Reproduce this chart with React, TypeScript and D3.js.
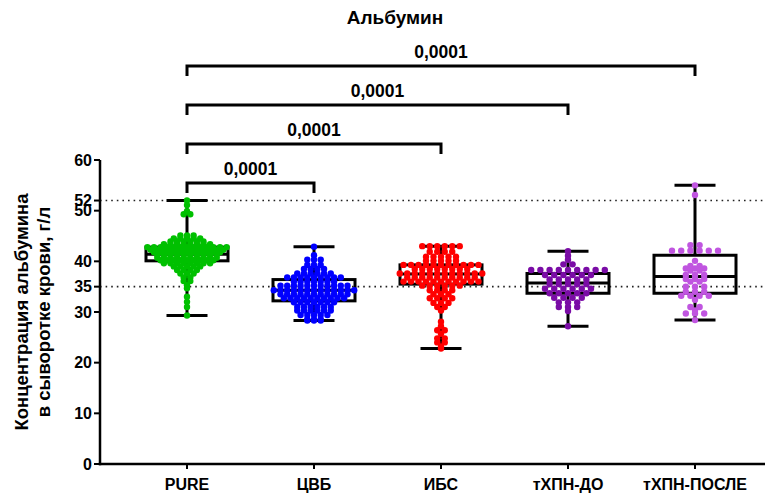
import React from 'react';
import * as d3 from 'd3';

// Groups along the x axis
const categories = ['PURE', 'ЦВБ', 'ИБС', 'тХПН-ДО', 'тХПН-ПОСЛЕ'];
const dotColors = ['#00c000', '#0000ff', '#ff0000', '#7a0ca6', '#c055e0'];

// Box-and-whisker summaries (min, Q1, median, Q3, max), г/л
const whiskerLow = [29.3, 28.3, 22.8, 27.2, 28.4];
const quartile1 = [40.1, 32.2, 35.5, 33.7, 33.7];
const medians = [41.4, 34.3, 37.5, 35.7, 37.0];
const quartile3 = [42.8, 36.4, 39.3, 37.6, 41.2];
const whiskerHigh = [52.0, 42.9, 43.0, 42.0, 55.0];

// Individual measurements per group
const purePoints = [
  52.0, 51.1, 49.9, 49.3, 49.3,
  45.1, 45.1, 45.1,
  44.5, 44.5, 44.5, 44.5, 44.5,
  43.9, 43.9, 43.9, 43.9, 43.9, 43.9,
  43.4, 43.4, 43.4, 43.4, 43.4, 43.4, 43.4, 43.4,
  42.8, 42.8, 42.8, 42.8, 42.8, 42.8, 42.8, 42.8, 42.8, 42.8, 42.8, 42.8, 42.8,
  42.3, 42.3, 42.3, 42.3, 42.3, 42.3, 42.3, 42.3, 42.3, 42.3, 42.3, 42.3,
  41.8, 41.8, 41.8, 41.8, 41.8, 41.8, 41.8, 41.8, 41.8, 41.8, 41.8,
  41.3, 41.3, 41.3, 41.3, 41.3, 41.3, 41.3, 41.3, 41.3, 41.3,
  40.7, 40.7, 40.7, 40.7, 40.7, 40.7, 40.7, 40.7, 40.7, 40.7,
  40.2, 40.2, 40.2, 40.2, 40.2, 40.2, 40.2, 40.2, 40.2,
  39.6, 39.6, 39.6, 39.6, 39.6, 39.6, 39.6, 39.6,
  39.0, 39.0, 39.0, 39.0, 39.0,
  38.3, 38.3, 38.3, 38.3,
  37.6, 37.6, 37.6,
  36.8, 36.8, 36.1, 36.1,
  35.3, 34.7, 33.0, 32.0, 31.0, 29.3,
];

const cvbPoints = [
  42.9, 41.2,
  40.3, 40.3, 40.3,
  39.3, 39.3, 39.3,
  38.5, 38.5, 38.5, 38.5,
  37.6, 37.6, 37.6, 37.6, 37.6, 37.6,
  36.8, 36.8, 36.8, 36.8, 36.8, 36.8, 36.8, 36.8, 36.8,
  36.0, 36.0, 36.0, 36.0, 36.0, 36.0, 36.0,
  35.2, 35.2, 35.2, 35.2, 35.2, 35.2, 35.2, 35.2, 35.2, 35.2, 35.2,
  34.3, 34.3, 34.3, 34.3, 34.3, 34.3, 34.3, 34.3, 34.3, 34.3, 34.3, 34.3, 34.3,
  33.5, 33.5, 33.5, 33.5, 33.5, 33.5, 33.5, 33.5, 33.5, 33.5, 33.5,
  32.7, 32.7, 32.7, 32.7, 32.7, 32.7, 32.7, 32.7, 32.7, 32.7,
  31.9, 31.9, 31.9, 31.9, 31.9, 31.9, 31.9,
  31.0, 31.0, 31.0, 31.0, 31.0, 31.0,
  30.3, 30.3, 30.3, 30.3, 30.3, 30.3,
  29.4, 29.4, 29.4, 29.4, 29.4,
  28.6, 28.6, 28.6, 28.3, 28.3, 28.3,
];

const ibsPoints = [
  43.0, 43.0, 43.0, 43.0, 43.0, 43.0,
  41.9, 41.9, 41.9, 41.9,
  40.9, 40.9, 40.9, 40.9, 40.9,
  40.1, 40.1, 40.1, 40.1, 40.1,
  39.3, 39.3, 39.3, 39.3, 39.3, 39.3, 39.3, 39.3, 39.3, 39.3, 39.3,
  38.5, 38.5, 38.5, 38.5, 38.5, 38.5, 38.5, 38.5,
  37.6, 37.6, 37.6, 37.6, 37.6, 37.6, 37.6, 37.6, 37.6, 37.6, 37.6, 37.6,
  36.8, 36.8, 36.8, 36.8, 36.8, 36.8, 36.8, 36.8, 36.8, 36.8,
  36.0, 36.0, 36.0, 36.0, 36.0, 36.0, 36.0, 36.0, 36.0, 36.0, 36.0,
  35.2, 35.2, 35.2, 35.2, 35.2, 35.2,
  34.3, 34.3, 34.3, 34.3,
  33.5, 33.5, 33.5,
  32.7, 32.7, 32.7, 32.7,
  31.8, 31.8, 31.8,
  31.0, 31.0, 30.3,
  28.1, 27.2, 26.4, 26.4, 25.7, 24.8, 24.8, 24.0, 24.0, 23.2, 22.8,
];

const tkdDoPoints = [
  42.0, 41.1, 40.3,
  39.4, 39.4,
  38.3, 38.3, 38.3, 38.3, 38.3, 38.3, 38.3, 38.3, 38.3,
  37.3, 37.3, 37.3, 37.3, 37.3, 37.3,
  36.4, 36.4, 36.4, 36.4, 36.4,
  35.5, 35.5, 35.5, 35.5, 35.5,
  34.6, 34.6, 34.6, 34.6, 34.6, 34.6,
  33.7, 33.7, 33.7, 33.7, 33.7,
  32.8, 32.8, 32.8, 32.8,
  31.9, 31.9, 31.9,
  31.0, 31.0, 31.0,
  30.2, 27.2,
];

const tkdPosslePoints = [
  55.0, 53.1,
  43.2, 43.2,
  42.1, 42.1, 42.1, 42.1, 42.1, 42.1,
  40.1,
  39.1, 39.1,
  38.6, 38.6, 38.6,
  38.2, 38.2,
  37.3, 37.3, 37.3,
  36.5, 36.5, 36.5,
  36.0, 36.0,
  35.0, 35.0, 35.0,
  34.0, 34.0, 34.0,
  33.2, 33.2, 33.2, 33.2,
  32.4,
  31.0, 31.0,
  30.3,
  29.7, 29.7, 29.7,
  28.4,
];

const groupPoints = [purePoints, cvbPoints, ibsPoints, tkdDoPoints, tkdPosslePoints];

// Axis ticks and dotted reference levels
const yTicks = [0, 10, 20, 30, 35, 40, 50, 52, 60];
const refLevels = [35, 52];

// Pairwise comparisons against PURE, drawn from the innermost outwards
const compareTo = ['ЦВБ', 'ИБС', 'тХПН-ДО', 'тХПН-ПОСЛЕ'];
const pValues = ['0,0001', '0,0001', '0,0001', '0,0001'];

const W = 780;
const H = 498;
const FONT = '"Liberation Sans", Arial, Helvetica, sans-serif';

const x = d3.scalePoint<string>().domain(categories).range([187, 695]);
const y = d3.scaleLinear().domain([0, 60]).range([464, 160]);

const R = 3.2;
// horizontal spacing of dots within a row, per group (sparser groups spread wider)
const rowSpacing = [6.6, 6.7, 7.5, 9.2, 9.2];

// Scatter-dot layout: equal values share a row, centred on the group axis
function rows(values: number[], cx: number, spacing: number) {
  const byValue = d3.group(values, (v) => v);
  const out: { x: number; y: number }[] = [];
  for (const [v, list] of byValue) {
    const n = list.length;
    list.forEach((_, j) => {
      out.push({ x: cx + (j - (n - 1) / 2) * spacing, y: y(v) });
    });
  }
  return out;
}

export default function App() {
  const axisLeft = 100;
  const axisRight = 765;
  const boxHalf = 41;
  const capHalf = 20.5;

  return (
    <svg
      width={W}
      height={H}
      style={{ position: 'absolute', left: 0, top: 0, background: '#fff' }}
      fontFamily={FONT}
    >
      <rect width={W} height={H} fill="#fff" />

      {/* title */}
      <text x={395} y={24} textAnchor="middle" fontSize={19} fontWeight="bold" fill="#000">
        Альбумин
      </text>

      {/* reference levels */}
      {refLevels.map((v) => (
        <line
          key={v}
          x1={axisLeft}
          x2={axisRight}
          y1={y(v)}
          y2={y(v)}
          stroke="#222"
          strokeWidth={1.6}
          strokeDasharray="1.6 4"
        />
      ))}

      {/* boxes and whiskers */}
      {categories.map((c, i) => {
        const cx = x(c)!;
        return (
          <g key={c} stroke="#000" strokeWidth={3} fill="none">
            <line x1={cx} x2={cx} y1={y(whiskerHigh[i])} y2={y(quartile3[i])} />
            <line x1={cx} x2={cx} y1={y(quartile1[i])} y2={y(whiskerLow[i])} />
            <line x1={cx - capHalf} x2={cx + capHalf} y1={y(whiskerHigh[i])} y2={y(whiskerHigh[i])} />
            <line x1={cx - capHalf} x2={cx + capHalf} y1={y(whiskerLow[i])} y2={y(whiskerLow[i])} />
            <rect
              x={cx - boxHalf}
              y={y(quartile3[i])}
              width={boxHalf * 2}
              height={y(quartile1[i]) - y(quartile3[i])}
            />
            <line x1={cx - boxHalf} x2={cx + boxHalf} y1={y(medians[i])} y2={y(medians[i])} />
          </g>
        );
      })}

      {/* individual points */}
      {categories.map((c, i) => (
        <g key={c} fill={dotColors[i]}>
          {rows(groupPoints[i], x(c)!, rowSpacing[i]).map((p, j) => (
            <circle key={j} cx={p.x} cy={p.y} r={R} />
          ))}
        </g>
      ))}

      {/* y axis */}
      <line x1={axisLeft} x2={axisLeft} y1={y(60)} y2={y(0) + 1.25} stroke="#000" strokeWidth={2.5} />
      {yTicks.map((t) => (
        <g key={t}>
          <line x1={axisLeft - 6} x2={axisLeft} y1={y(t)} y2={y(t)} stroke="#000" strokeWidth={2} />
          <text
            x={axisLeft - 8}
            y={y(t)}
            dy="0.36em"
            textAnchor="end"
            fontSize={16}
            fontWeight="bold"
            fill="#000"
          >
            {t}
          </text>
        </g>
      ))}

      {/* x axis */}
      <line x1={axisLeft - 1.25} x2={axisRight} y1={y(0)} y2={y(0)} stroke="#000" strokeWidth={2.5} />
      {categories.map((c) => (
        <g key={c}>
          <line x1={x(c)!} x2={x(c)!} y1={y(0)} y2={y(0) + 5} stroke="#000" strokeWidth={2} />
          <text x={x(c)!} y={490} textAnchor="middle" fontSize={16} fontWeight="bold" fill="#000">
            {c}
          </text>
        </g>
      ))}

      {/* y axis title */}
      <g transform={`translate(0, ${(y(0) + y(60)) / 2}) rotate(-90)`}>
        <text x={0} y={28} textAnchor="middle" fontSize={18.5} fontWeight="bold" fill="#000">
          Концентрация альбумина
        </text>
        <text x={0} y={50} textAnchor="middle" fontSize={18.5} fontWeight="bold" fill="#000">
          в сыворотке крови, г/л
        </text>
      </g>

      {/* significance brackets */}
      {compareTo.map((c, i) => {
        const x0 = x(categories[0])!;
        const x1 = x(c)!;
        const by = 183 - i * 39;
        return (
          <g key={c}>
            <path
              d={`M${x0},${by + 10}V${by}H${x1}V${by + 10}`}
              fill="none"
              stroke="#000"
              strokeWidth={3}
            />
            <text
              x={(x0 + x1) / 2}
              y={by - 8}
              textAnchor="middle"
              fontSize={17.5}
              fontWeight="bold"
              fill="#000"
            >
              {pValues[i]}
            </text>
          </g>
        );
      })}
    </svg>
  );
}
